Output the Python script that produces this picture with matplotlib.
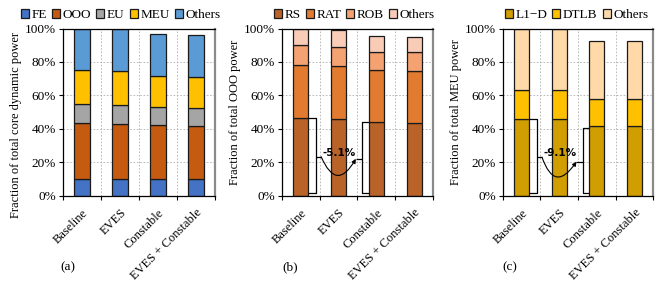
import numpy as np
import matplotlib
matplotlib.use("Agg")
import matplotlib.pyplot as plt
from matplotlib.patches import FancyArrowPatch

plt.rcParams["font.family"] = ["Liberation Serif", "DejaVu Serif"]

configs = ["Baseline", "EVES", "Constable", "EVES + Constable"]

# (a) core dynamic power breakdown (segment sizes, %)
core_parts = ["FE", "OOO", "EU", "MEU", "Others"]
core_fe = [10.0, 9.8, 10.0, 9.8]
core_ooo = [33.4, 33.1, 32.1, 31.7]
core_eu = [11.2, 11.2, 10.8, 11.0]
core_meu = [20.3, 20.4, 18.6, 18.6]
core_others = [25.1, 25.1, 25.5, 25.3]
core_colors = ["#4472C4", "#C55A11", "#A5A5A5", "#FFC000", "#5B9BD5"]

# (b) OOO power breakdown
ooo_parts = ["RS", "RAT", "ROB", "Others"]
ooo_rs = [46.5, 46.1, 44.1, 43.7]
ooo_rat = [31.6, 31.6, 30.8, 31.0]
ooo_rob = [12.0, 11.5, 11.3, 11.2]
ooo_others = [9.9, 9.8, 9.4, 9.1]
ooo_colors = ["#BA6329", "#E27B30", "#F4A272", "#F9CCB8"]
ooo_change = "-5.1%"

# (c) MEU power breakdown
meu_parts = ["L1\u2212D", "DTLB", "Others"]
meu_l1d = [46.0, 46.0, 41.7, 41.7]
meu_dtlb = [17.3, 17.3, 16.4, 16.4]
meu_others = [36.7, 36.7, 34.5, 34.5]
meu_colors = ["#D09E00", "#FFC000", "#FFDAA8"]
meu_change = "-9.1%"

W, H = 668, 281
FS = 9
fig = plt.figure(figsize=(W / 100, H / 100), dpi=100)

x = np.arange(len(configs))
bar_w = 0.4


def setup_axes(left_px, width_px, ylabel, label_y):
    ax = fig.add_axes([left_px / W, (H - 195.7) / H, width_px / W, 167.2 / H])
    ax.set_xlim(-0.5, 3.5)
    ax.set_ylim(0, 100)
    ax.set_yticks(np.arange(0, 101, 20))
    ax.set_yticklabels([f"{v}%" for v in range(0, 101, 20)], fontsize=FS + 0.5)
    ax.set_xticks(x)
    ax.set_xticklabels(configs, rotation=45, ha="right", rotation_mode="anchor",
                       fontsize=FS)
    ax.set_xticks([-0.5, 0.5, 1.5, 2.5, 3.5], minor=True)
    ax.tick_params(axis="x", which="major", length=0, pad=8)
    ax.tick_params(axis="x", which="minor", length=3, width=0.8, direction="out")
    ax.tick_params(axis="y", length=3, width=0.8, direction="out", pad=2)
    ax.set_axisbelow(True)
    for v in [20, 40, 60, 80]:
        ax.axhline(v, color="#b0b0b0", lw=0.6, ls=(0, (2, 2)), zorder=0)
    for v in [0.5, 1.5, 2.5]:
        ax.axvline(v, color="#b0b0b0", lw=0.6, ls=(0, (2, 2)), zorder=0)
    for s in ["left", "bottom", "top"]:
        ax.spines[s].set_linewidth(0.9)
    ax.spines["right"].set_color("#8a8a8a")
    ax.spines["right"].set_linewidth(1.6)
    ax.set_ylabel(ylabel, fontsize=FS)
    ax.yaxis.set_label_coords(-0.27, label_y)
    return ax


def stack(ax, series, names, colors, legend_cx):
    bottom = np.zeros(len(configs))
    handles = []
    for vals, name, c in zip(series, names, colors):
        h = ax.bar(x, vals, bar_w, bottom=bottom, color=c, edgecolor="#1a1a1a",
                   linewidth=0.9, label=name, zorder=2)
        handles.append(h)
        bottom = bottom + np.array(vals)
    ax.legend(handles=handles, loc="lower center", bbox_to_anchor=(legend_cx, 1.0),
              ncol=len(names), frameon=False, fontsize=FS + 0.5, handlelength=0.6,
              handleheight=0.6, handletextpad=0.2, columnspacing=0.4,
              borderaxespad=0.15)


def brace(ax, base_top, cons_top, text):
    lkw = dict(color="black", lw=0.9, zorder=3, solid_capstyle="butt")
    low = 1.6
    # brace to the right of the Baseline bar
    xe, xv, xn = x[0] + bar_w / 2, x[0] + 0.41, x[0] + 0.545
    ax.plot([xe, xv, xv, xe], [base_top, base_top, low, low], **lkw)
    ax.plot([xv, xn], [base_top / 2, base_top / 2], **lkw)
    # brace to the left of the Constable bar
    ce, cv, cn = x[2] - bar_w / 2, x[2] - 0.376, x[2] - 0.54
    ax.plot([ce, cv, cv, ce], [cons_top, cons_top, low, low], **lkw)
    ax.plot([cv, cn], [cons_top / 2, cons_top / 2], **lkw)
    arr = FancyArrowPatch((xn, base_top / 2), (cn, cons_top / 2),
                          connectionstyle="arc3,rad=1.0", arrowstyle="-|>",
                          mutation_scale=6, lw=0.8, color="black", zorder=4,
                          shrinkA=0, shrinkB=0)
    ax.add_patch(arr)
    ax.text((xn + cn) / 2 + 0.02, 25.5, text, ha="center", va="center",
            fontsize=7.5, fontweight="bold", family="DejaVu Sans", zorder=5)


ax_a = setup_axes(63, 152, "Fraction of total core dynamic power", 0.42)
stack(ax_a, [core_fe, core_ooo, core_eu, core_meu, core_others], core_parts,
      core_colors, 0.38)

ax_b = setup_axes(281.7, 151.3, "Fraction of total OOO power", 0.5)
stack(ax_b, [ooo_rs, ooo_rat, ooo_rob, ooo_others], ooo_parts, ooo_colors, 0.48)
brace(ax_b, ooo_rs[0], ooo_rs[2], ooo_change)

ax_c = setup_axes(502.7, 150.5, "Fraction of total MEU power", 0.5)
stack(ax_c, [meu_l1d, meu_dtlb, meu_others], meu_parts, meu_colors, 0.49)
brace(ax_c, meu_l1d[0], meu_l1d[2] - 1.0, meu_change)

for lbl, px in zip(["(a)", "(b)", "(c)"], [68, 290, 510]):
    fig.text(px / W, (H - 267) / H, lbl, ha="center", va="center", fontsize=FS + 0.5)

fig.savefig("out.png", dpi=100)
